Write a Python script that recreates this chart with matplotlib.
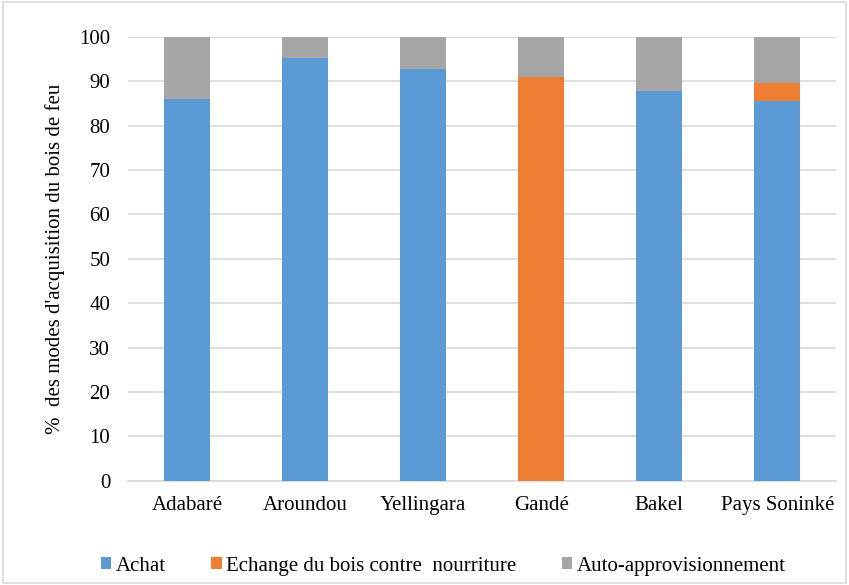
import matplotlib
matplotlib.use("Agg")
import matplotlib.pyplot as plt
import numpy as np
from matplotlib.patches import Rectangle

# données
sites = ["Adabaré", "Aroundou", "Yellingara", "Gandé", "Bakel", "Pays Soninké"]
achat = [86.0, 95.2, 92.8, 0.0, 87.9, 85.5]
echange = [0.0, 0.0, 0.0, 90.9, 0.0, 4.0]
auto = [14.0, 4.8, 7.2, 9.1, 12.1, 10.5]

plt.rcParams["font.family"] = ["Liberation Serif", "DejaVu Serif"]

fig = plt.figure(figsize=(8.49, 5.85), dpi=100)
ax = fig.add_axes([0.151, 0.178, 0.834, 0.759])

x = np.arange(len(sites))
w = 0.39
ax.bar(x, achat, w, color="#5b9bd5", label="Achat", zorder=3)
ax.bar(x, echange, w, bottom=achat, color="#ed7d31",
       label="Echange du bois contre  nourriture", zorder=3)
bas = np.array(achat) + np.array(echange)
ax.bar(x, auto, w, bottom=bas, color="#a5a5a5",
       label="Auto-approvisionnement", zorder=3)

ax.set_xlim(-0.5, len(sites) - 0.5)
ax.set_ylim(0, 100)
ax.set_yticks(range(0, 101, 10))
ax.set_xticks(x)
ax.set_xticklabels(sites)
ax.yaxis.grid(True, color="#d9d9d9", linewidth=1.2, zorder=0)
for s in ["top", "right", "left"]:
    ax.spines[s].set_visible(False)
ax.spines["bottom"].set_color("#d9d9d9")
ax.spines["bottom"].set_linewidth(1.2)
ax.tick_params(axis="both", length=0, labelsize=15)
ax.tick_params(axis="y", pad=13)
ax.tick_params(axis="x", pad=11)
ax.set_ylabel("%  des modes d'acquisition du bois de feu", fontsize=15, labelpad=10)

fig.legend(loc="center", bbox_to_anchor=(0.522, 0.032), ncol=3, frameon=False,
           fontsize=15, handlelength=0.5, handleheight=0.5, handletextpad=0.2,
           columnspacing=2.2)

# cadre autour de la figure
fig.patches.append(Rectangle((0.003, 0.003), 0.994, 0.994, transform=fig.transFigure,
                             fill=False, edgecolor="#d9d9d9", linewidth=1.2))

fig.savefig("out.png", dpi=100)
